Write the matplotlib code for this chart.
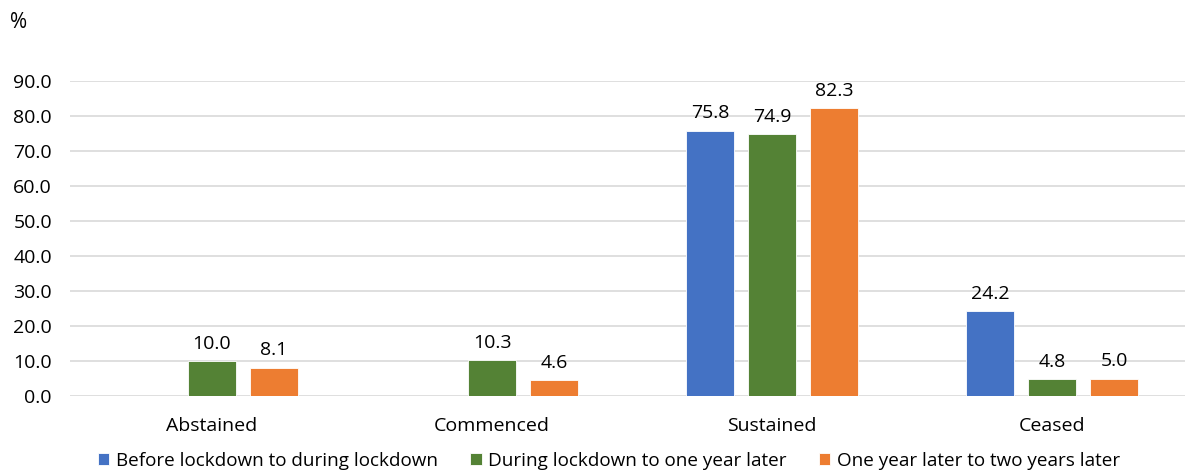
import numpy as np
import matplotlib
matplotlib.use('Agg')
from matplotlib import pyplot as plt

plt.rcParams['font.family'] = ['Open Sans', 'DejaVu Sans']

categories = ['Abstained', 'Commenced', 'Sustained', 'Ceased']
series_names = ['Before lockdown to during lockdown',
                'During lockdown to one year later',
                'One year later to two years later']
before_during = [np.nan, np.nan, 75.8, 24.2]
during_oneyear = [10.0, 10.3, 74.9, 4.8]
oneyear_twoyears = [8.1, 4.6, 82.3, 5.0]
yticks = [0, 10, 20, 30, 40, 50, 60, 70, 80, 90]

colors = ['#4472C4', '#548235', '#ED7D31']
series = [before_during, during_oneyear, oneyear_twoyears]

fig = plt.figure(figsize=(11.85, 4.7), dpi=100)
ax = fig.add_axes([70/1185, 74/470, 1 - 70/1185, (396-81)/470])

x = np.arange(len(categories))
width = 48/280
pitch = 62/280
for i, (vals, col, name) in enumerate(zip(series, colors, series_names)):
    pos = x + (i - 1) * pitch
    ax.bar(pos, vals, width, color=col, edgecolor='white',
           linewidth=0.6, label=name, zorder=3)
    for xp, v in zip(pos, vals):
        if not np.isnan(v):
            ax.annotate('{:.1f}'.format(v), (xp, v), xytext=(0, 6),
                        textcoords='offset points', ha='center', va='bottom',
                        fontsize=14, color='#000000')

ax.set_xlim(-142/280, 3 + 133/280)
ax.set_ylim(0, 90)
ax.set_yticks(yticks)
ax.set_yticklabels(['{:.1f}'.format(t) for t in yticks])
ax.set_xticks(x)
ax.set_xticklabels(categories)
ax.yaxis.grid(True, color='#D9D9D9', linewidth=1.2, zorder=0)
ax.set_axisbelow(True)
for s in ax.spines.values():
    s.set_visible(False)
ax.tick_params(axis='y', length=0, pad=13, labelsize=14, labelcolor='#000000')
ax.tick_params(axis='x', length=0, pad=15, labelsize=14, labelcolor='#000000')

fig.text(10/1185, 1 - 22/470, '%', fontsize=15, va='center', ha='left')

fig.legend(loc='center', bbox_to_anchor=(609/1185, 9/470), ncol=3,
           frameon=False, fontsize=13.6, handlelength=0.6, handleheight=0.6,
           handletextpad=0.35, columnspacing=1.7, borderaxespad=0)

fig.savefig('out.png', dpi=100)
